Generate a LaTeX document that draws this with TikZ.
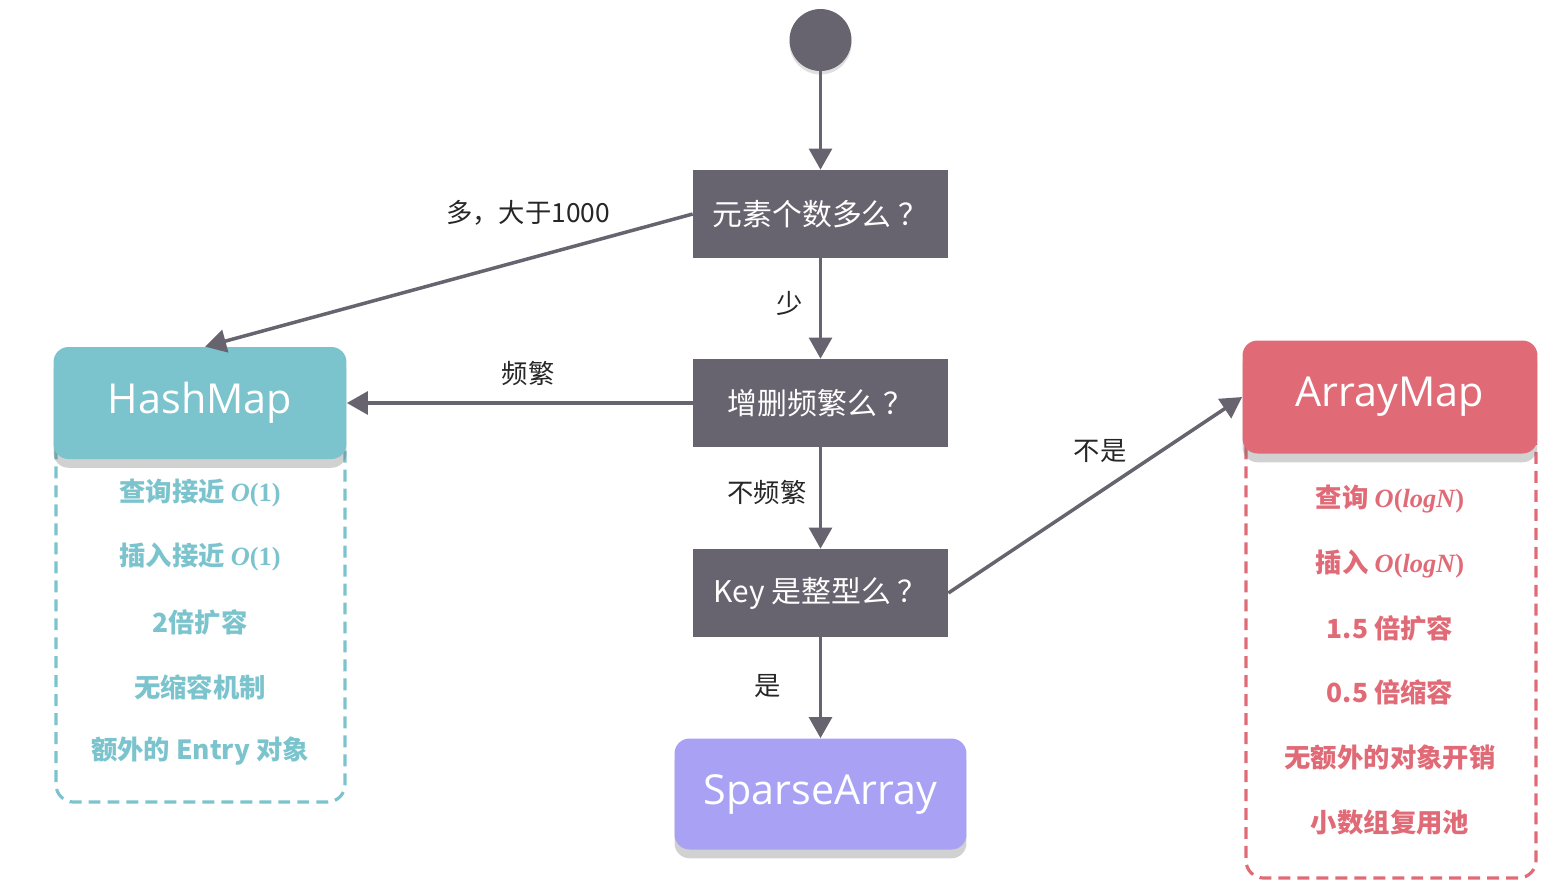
\documentclass[tikz,border=0pt]{standalone}
\usepackage{fontspec}
\setmainfont{Noto Sans CJK SC}
\newfontfamily\titlefont{Open Sans}
\newfontfamily\bigO{Liberation Serif}
\usetikzlibrary{arrows.meta,shadows,positioning}
\definecolor{boxgray}{RGB}{103,100,111}
\definecolor{hashteal}{RGB}{123,196,205}
\definecolor{arrayred}{RGB}{224,107,119}
\definecolor{sparsepurple}{RGB}{169,162,244}
\newcommand{\cost}[1]{{\bigO\bfseries\itshape O}{\bigO\bfseries(}{\bigO\bfseries #1}{\bigO\bfseries)}}
\begin{document}
\begin{tikzpicture}[x=0.02cm, y=-0.02cm,
    question/.style={rectangle, fill=boxgray, text=white,
      minimum width=5.1cm, minimum height=1.76cm,
      font=\fontsize{17}{20}\selectfont},
    result/.style={rectangle, rounded corners=0.3cm, text=white,
      minimum width=5.86cm, minimum height=2.24cm,
      font=\titlefont\fontsize{23.5}{28}\selectfont,
      drop shadow={shadow xshift=0pt, shadow yshift=-5pt, opacity=0.3, fill=black!60}},
    flow/.style={-{Triangle[width=13pt,length=12pt]}, line width=2pt, draw=boxgray},
    cond/.style={text=black!85, font=\fontsize{15}{18}\selectfont},
    feat/.style={font=\bfseries\fontsize{15}{18}\selectfont},
    border/.style={line width=1.8pt, dash pattern=on 6.8pt off 4pt, rounded corners=0.35cm},
  ]
    \useasboundingbox (0,0) rectangle (1556,894);

    % dashed frames behind the result boxes
    \draw[border, draw=hashteal] (56,430) rectangle (345,802);
    \draw[border, draw=arrayred] (1246,430) rectangle (1536,878);

    \node[circle, fill=boxgray, minimum size=1.24cm,
      drop shadow={shadow xshift=0pt, shadow yshift=-2pt, opacity=0.25}] (start) at (820.5,40) {};

    \node[question] (count) at (820.5,214) {元素个数多么 ？};
    \node[question] (often) at (820.5,403) {增删频繁么 ？};
    \node[question] (key) at (820.5,593) {Key 是整型么 ？};

    \node[result, fill=hashteal] (hash) at (200,403) {HashMap};
    \node[result, fill=arrayred,
      minimum width=5.9cm, minimum height=2.26cm] (array) at (1390,397) {ArrayMap};
    \node[result, fill=sparsepurple,
      minimum width=5.84cm, minimum height=2.22cm] (sparse) at (820.5,794) {SparseArray};

    \draw[flow] (start)--(count);
    \draw[flow] (count)--(often);
    \draw[flow] (often)--(key);
    \draw[flow] (key)--(sparse);
    \draw[flow] (count.west)--([xshift=0.1cm]hash.north);
    \draw[flow] (often.west)--(hash.east);
    \draw[flow] (key.east)--(array.west);

    \node[cond] (many) at (528,213) {多，大于1000};
    \node[cond] (few) at (790,303) {少};
    \node[cond] (busy) at (528,373) {频繁};
    \node[cond] (calm) at (767,492) {不频繁};
    \node[cond] (yes) at (768,686) {是};
    \node[cond] (no) at (1100,451) {不是};

    % HashMap traits
    \node[feat, text=hashteal] (h1) at (200,493) {查询接近 \cost{1}};
    \node[feat, text=hashteal] (h2) at (200,557) {插入接近 \cost{1}};
    \node[feat, text=hashteal] (h3) at (200,622) {2倍扩容};
    \node[feat, text=hashteal] (h4) at (200,687) {无缩容机制};
    \node[feat, text=hashteal] (h5) at (200,751) {额外的 Entry 对象};

    % ArrayMap traits
    \node[feat, text=arrayred] (a1) at (1390,499) {查询 \cost{\itshape logN}};
    \node[feat, text=arrayred] (a2) at (1390,564) {插入 \cost{\itshape logN}};
    \node[feat, text=arrayred] (a3) at (1390,628) {1.5 倍扩容};
    \node[feat, text=arrayred] (a4) at (1390,692) {0.5 倍缩容};
    \node[feat, text=arrayred] (a5) at (1390,757) {无额外的对象开销};
    \node[feat, text=arrayred] (a6) at (1390,822) {小数组复用池};
\end{tikzpicture}
\end{document}
